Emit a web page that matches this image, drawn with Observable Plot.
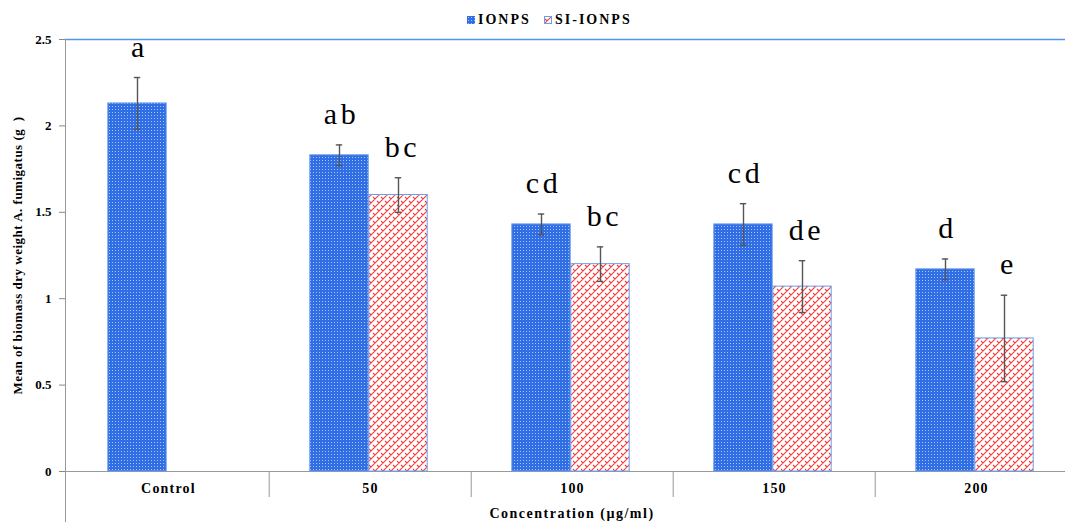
<!DOCTYPE html>
<html>
<head>
<meta charset="utf-8">
<script src="https://cdn.jsdelivr.net/npm/d3@7"></script>
<script src="https://cdn.jsdelivr.net/npm/@observablehq/plot@0.6"></script>
<style>
  html, body { margin: 0; padding: 0; background: #fff; overflow: hidden; width: 1065px; height: 522px; }
  body { font-family: "Liberation Serif", "Times New Roman", serif; }
  #legend { height: 30px; position: relative; }
  #legend .item { position: absolute; top: 13px; display: flex; align-items: center; font-weight: bold; font-size: 14px; letter-spacing: 2px; line-height: 14px; }
  #legend .sw { width: 8px; height: 8px; margin-right: 3px; }
  #chart svg { display: block; max-width: none; }
  #chart svg text { font-family: "Liberation Serif", "Times New Roman", serif; }
  #chart g[aria-label="y-axis tick label"] text { font-weight: bold; }
  #chart g[aria-label="x-axis tick label"] text { font-weight: bold; letter-spacing: 1.2px; }
  #chart .letters text { letter-spacing: 3.5px; }
  #chart .ytitle text { letter-spacing: 0.5px; }
  #chart .xtitle text { letter-spacing: 1.5px; }
</style>
</head>
<body>
<svg width="0" height="0" style="position:absolute">
  <defs>
    <pattern id="pBlue" width="3" height="3" patternUnits="userSpaceOnUse">
      <rect width="3" height="3" fill="#2F6EE4"></rect>
      <rect x="1" y="1" width="1" height="1" fill="#A9C6F7"></rect>
    </pattern>
    <pattern id="pRed" width="8" height="8" patternUnits="userSpaceOnUse">
      <rect width="8" height="8" fill="#fff"></rect>
      <path d="M0,8 L8,0 M-2,2 L2,-2 M6,10 L10,6 M1,3 L3,5 M5,7 L7,9 M5,-1 L7,1" stroke="#F23A3A" stroke-width="1.1" fill="none"></path>
    </pattern>
  </defs>
</svg>
<div id="legend">
  <div class="item" style="left:467px"><svg class="sw"><rect width="8" height="8" fill="url(#pBlue)"></rect></svg>IONPS</div>
  <div class="item" style="left:544px"><svg class="sw"><rect x="0.5" y="0.5" width="7" height="7" fill="url(#pRed)" stroke="#6C9EEB"></rect></svg>SI-IONPS</div>
</div>
<div id="chart"></div>
<script>
const categories = ["Control", "50", "100", "150", "200"];
const ionps = [2.13, 1.83, 1.43, 1.43, 1.17];
const ionpsErr = [0.15, 0.06, 0.06, 0.12, 0.06];
const ionpsLetters = ["a", "ab", "cd", "cd", "d"];
const siIonps = [null, 1.60, 1.20, 1.07, 0.77];
const siIonpsErr = [null, 0.10, 0.10, 0.15, 0.25];
const siIonpsLetters = [null, "bc", "bc", "de", "e"];
const seriesNames = ["IONPS", "SI-IONPS"];
const yTicks = [0, 0.5, 1, 1.5, 2, 2.5];

const rowsA = categories.map((c, i) => ({cat: c, v: ionps[i], lo: ionps[i] - ionpsErr[i], hi: ionps[i] + ionpsErr[i], letter: ionpsLetters[i]}));
const rowsB = categories.map((c, i) => ({cat: c, v: siIonps[i], lo: siIonps[i] - siIonpsErr[i], hi: siIonps[i] + siIonpsErr[i], letter: siIonpsLetters[i]})).filter(d => d.v != null);

const W = 1080, H = 492, mL = 65, mR = 2, mT = 9, mB = 51;
const band = (W - mL - mR) / categories.length;
const barW = 59;
const off = (band - 2 * barW) / 2 - 1.5;
const capW = 7;
const insA = {insetLeft: off, insetRight: band - off - barW};
const insB = {insetLeft: off + barW, insetRight: band - off - 2 * barW};
const cA = off + barW / 2 - band / 2;
const cB = off + barW * 1.5 - band / 2;
const capA = {insetLeft: off + barW / 2 - capW / 2, insetRight: band - (off + barW / 2 + capW / 2)};
const capB = {insetLeft: off + barW * 1.5 - capW / 2, insetRight: band - (off + barW * 1.5 + capW / 2)};
const errStyle = {stroke: "#555", strokeWidth: 1.4};
const letterStyle = {fontSize: 30, fill: "#000", lineAnchor: "bottom", dy: -21, className: "letters"};

const chart = Plot.plot({
  width: W, height: H,
  marginLeft: mL, marginRight: mR, marginTop: mT, marginBottom: mB,
  style: {fontFamily: "Liberation Serif, serif", fontSize: "13px", color: "#000", overflow: "visible", maxWidth: "none"},
  x: {domain: categories, padding: 0, label: null},
  y: {domain: [0, 2.5], label: null},
  marks: [
    Plot.frame({anchor: "top", stroke: "#5594EC", strokeWidth: 1.3}),
    Plot.frame({anchor: "left", stroke: "#999", insetBottom: -mB}),
    Plot.ruleY([0], {stroke: "#999"}),
    Plot.ruleX(categories.slice(1), {x: d => d, y1: 0, y2: 0, insetBottom: -26, dx: -band / 2, stroke: "#999"}),
    Plot.axisY({ticks: yTicks, tickFormat: d => String(d), tickSize: 6, tickPadding: 8, stroke: "#888", fill: "#000", fontSize: 13}),
    Plot.axisX({tickSize: 0, tickPadding: 12, fontSize: 14, fill: "#000", label: null}),
    Plot.text(["Mean of biomass dry weight A. fumigatus (g  )"], {frameAnchor: "left", textAnchor: "middle", rotate: -90, dx: -48, fontSize: 13, fontWeight: "bold", fill: "#000", className: "ytitle"}),
    Plot.text(["Concentration (µg/ml)"], {frameAnchor: "bottom", dy: 46, fontSize: 14, fontWeight: "bold", fill: "#000", className: "xtitle"}),
    Plot.barY(rowsA, {x: "cat", y: "v", fill: "url(#pBlue)", stroke: "#6C9EEB", strokeWidth: 1, ...insA}),
    Plot.barY(rowsB, {x: "cat", y: "v", fill: "url(#pRed)", stroke: "#6C9EEB", strokeWidth: 1, ...insB}),
    Plot.ruleX(rowsA, {x: "cat", y1: "lo", y2: "hi", dx: cA, ...errStyle}),
    Plot.ruleX(rowsB, {x: "cat", y1: "lo", y2: "hi", dx: cB, ...errStyle}),
    Plot.tickY(rowsA, {x: "cat", y: "hi", ...capA, ...errStyle}),
    Plot.tickY(rowsA, {x: "cat", y: "lo", ...capA, ...errStyle}),
    Plot.tickY(rowsB, {x: "cat", y: "hi", ...capB, ...errStyle}),
    Plot.tickY(rowsB, {x: "cat", y: "lo", ...capB, ...errStyle}),
    Plot.text(rowsA, {x: "cat", y: "hi", text: "letter", dx: cA + 2, ...letterStyle}),
    Plot.text(rowsB, {x: "cat", y: "hi", text: "letter", dx: cB + 4, ...letterStyle})
  ]
});
document.getElementById("chart").appendChild(chart);
</script>
</body>
</html>
